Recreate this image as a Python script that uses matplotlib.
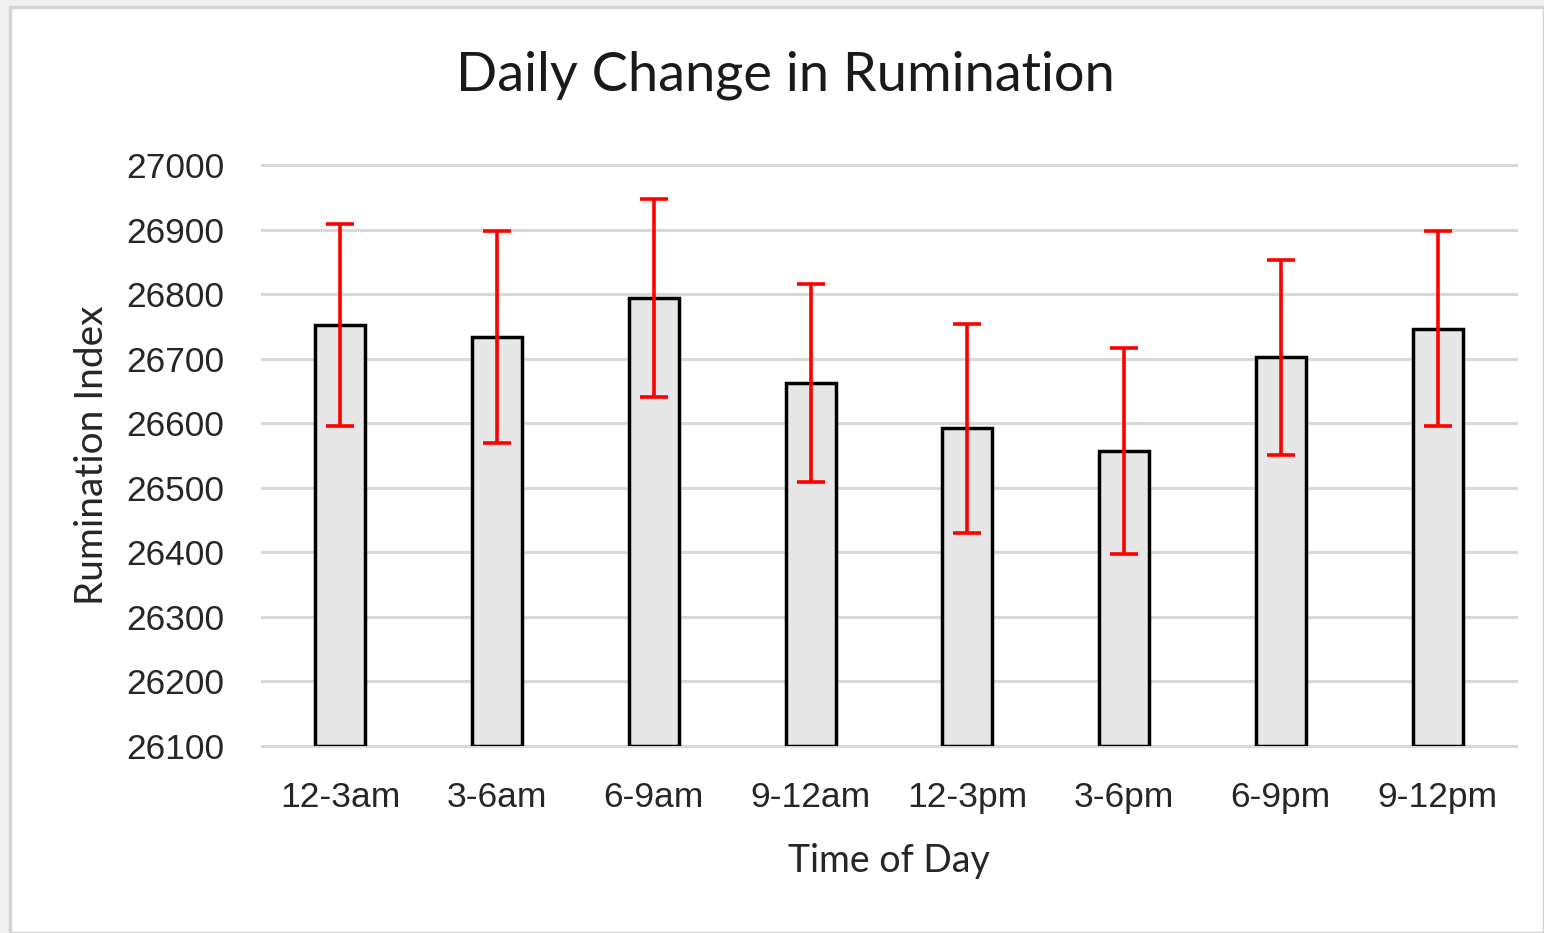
import matplotlib
matplotlib.use("Agg")
import matplotlib.pyplot as plt
from matplotlib.patches import Rectangle

# data
periods = ["12-3am", "3-6am", "6-9am", "9-12am", "12-3pm", "3-6pm", "6-9pm", "9-12pm"]
means = [26752, 26734, 26794, 26662, 26592, 26557, 26702, 26746]
errors = [157, 164, 154, 153, 162, 160, 151, 151]
y_ticks = [26100, 26200, 26300, 26400, 26500, 26600, 26700, 26800, 26900, 27000]

W, H, DPI = 1544, 933, 100
fig = plt.figure(figsize=(W / DPI, H / DPI), dpi=DPI, facecolor="#f0f0f0")

# white chart area with thin grey frame, kept behind the axes
fig.patches.append(Rectangle((10 / W, 0), 1 - 10 / W, 1 - 7 / H,
                             transform=fig.transFigure, facecolor="white",
                             edgecolor="#d4d4d4", linewidth=2.5, zorder=-10))

ax = fig.add_axes([262 / W, 1 - 746 / H, (1516 - 262) / W, (746 - 165) / H])
ax.set_facecolor("none")

x = range(len(periods))
ax.bar(x, [m - y_ticks[0] for m in means], bottom=y_ticks[0], width=0.32,
       color="#e7e7e7", edgecolor="black", linewidth=2.5, zorder=3)
ax.errorbar(x, means, yerr=errors, fmt="none", ecolor="#ff0000",
            elinewidth=2.6, capsize=10, capthick=2.6, zorder=4)

ax.set_xlim(-0.5, len(periods) - 0.5)
ax.set_ylim(y_ticks[0], y_ticks[-1])
ax.set_yticks(y_ticks)
ax.set_xticks(list(x))
ax.set_xticklabels(periods)
ax.grid(axis="y", color="#d9d9d9", linewidth=2.2, zorder=0)
ax.set_axisbelow(True)
for gl in ax.get_ygridlines():
    gl.set_clip_on(False)
for s in ax.spines.values():
    s.set_visible(False)
ax.tick_params(length=0, labelsize=25.5, labelcolor="#262626")
ax.tick_params(axis="y", pad=27)
ax.tick_params(axis="x", pad=25)
for lab in ax.get_xticklabels() + ax.get_yticklabels():
    lab.set_fontfamily("Liberation Sans")

ax.set_xlabel("Time of Day", fontsize=27, family="Lato", color="#262626", labelpad=21)
ax.set_ylabel("Rumination Index", fontsize=28, family="Lato", color="#262626", labelpad=12)

fig.text(785 / W, 1 - 75 / H, "Daily Change in Rumination", fontsize=39,
         family="Lato", color="#1a1a1a", ha="center", va="center")

fig.savefig("out.png", dpi=DPI, facecolor=fig.get_facecolor())
